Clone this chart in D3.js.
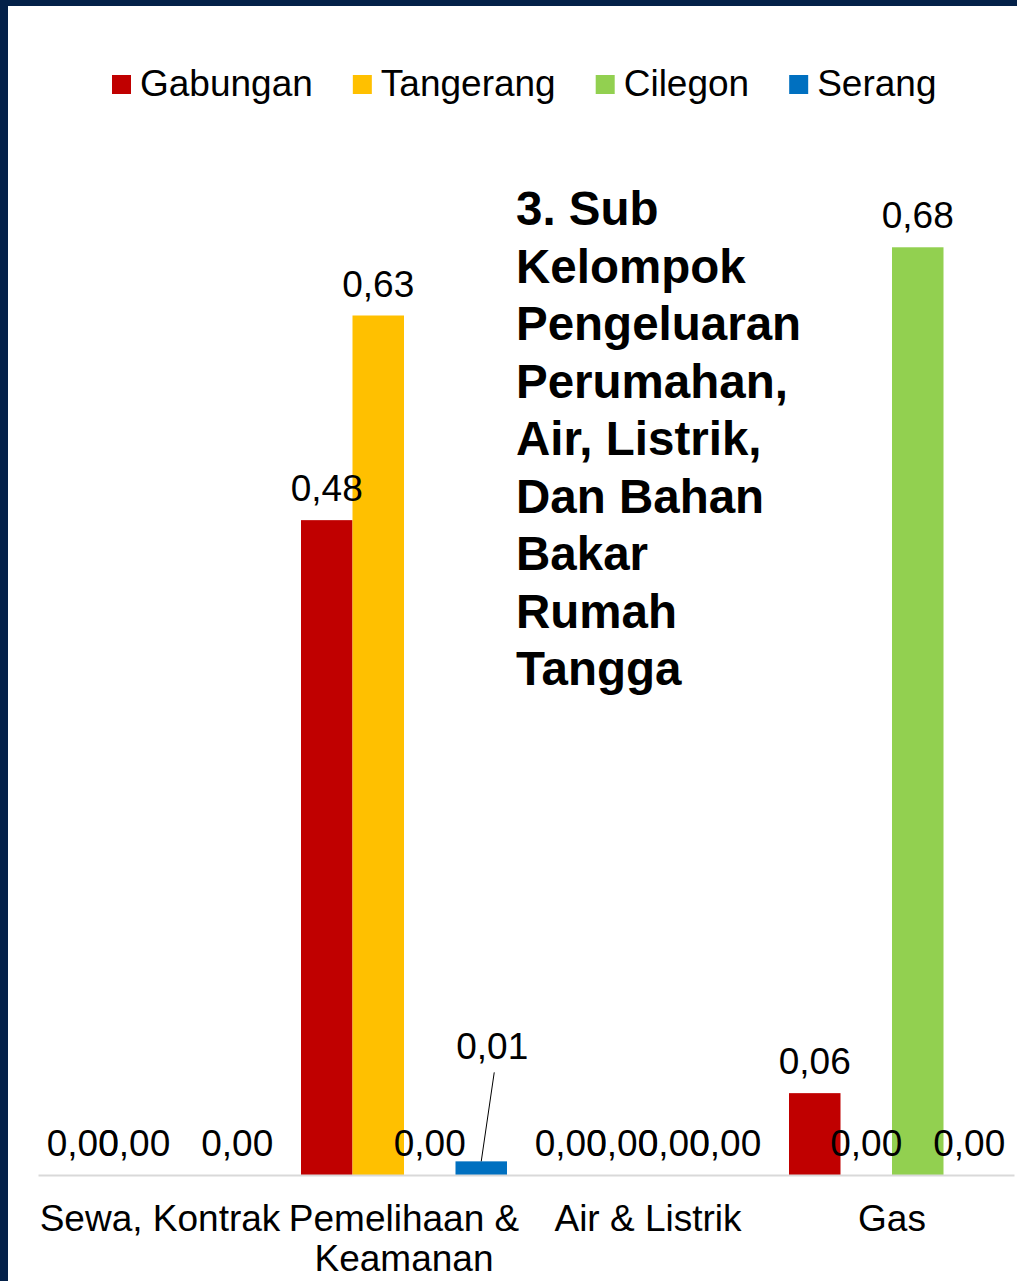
<!DOCTYPE html>
<html>
<head>
<meta charset="utf-8">
<script src="https://cdn.jsdelivr.net/npm/d3@7"></script>
<style>
  html, body { margin: 0; padding: 0; background: #ffffff; }
  svg { display: block; font-family: "Liberation Sans", Arial, sans-serif; }
</style>
</head>
<body>
<svg id="chart" width="1017" height="1281"></svg>
<script>
// ---- data ----
const categories = ["Sewa, Kontrak", "Pemelihaan & Keamanan", "Air & Listrik", "Gas"];
const seriesNames = ["Gabungan", "Tangerang", "Cilegon", "Serang"];
const gabungan  = [0.00, 0.48, 0.00, 0.06];
const tangerang = [0.00, 0.63, 0.00, 0.00];
const cilegon   = [null, 0.00, 0.00, 0.68];
const serang    = [0.00, 0.01, 0.00, 0.00];
const seriesColors = ["#C00000", "#FFC000", "#92D050", "#0070C0"];
const titleLines = ["3. Sub", "Kelompok", "Pengeluaran", "Perumahan,", "Air, Listrik,", "Dan Bahan", "Bakar", "Rumah", "Tangga"];

const seriesValues = [gabungan, tangerang, cilegon, serang];
const rows = [];
categories.forEach((c, ci) => {
  seriesNames.forEach((s, si) => {
    rows.push({ cat: c, series: s, si, value: seriesValues[si][ci] });
  });
});

// ---- layout ----
const W = 1017, H = 1281;
const plot = { left: 38, right: 1014, top: 220, bottom: 1175 };
const FS = 37;
const svg = d3.select("#chart");

svg.append("rect").attr("x", 0).attr("y", 0).attr("width", W).attr("height", H).attr("fill", "#ffffff");
// frame (dark navy edges)
svg.append("rect").attr("x", 0).attr("y", 0).attr("width", 8).attr("height", H).attr("fill", "#042149");
svg.append("rect").attr("x", 0).attr("y", 0).attr("width", W).attr("height", 6).attr("fill", "#042149");

const x0 = d3.scaleBand().domain(categories).range([plot.left, plot.right]).paddingInner(0).paddingOuter(0);
const x1 = d3.scaleBand().domain(seriesNames).range([0, x0.bandwidth()]).paddingInner(0).paddingOuter(0.369);
const y = d3.scaleLinear().domain([0, 0.7]).range([plot.bottom, plot.top]);
const color = d3.scaleOrdinal().domain(seriesNames).range(seriesColors);
const fmt = v => d3.format(".2f")(v).replace(".", ",");

// bars
svg.append("g").selectAll("rect")
  .data(rows.filter(d => d.value !== null && d.value > 0))
  .join("rect")
  .attr("x", d => x0(d.cat) + x1(d.series))
  .attr("y", d => y(d.value))
  .attr("width", x1.bandwidth())
  .attr("height", d => y(0) - y(d.value))
  .attr("fill", d => color(d.series));

// axis
const axis = svg.append("g")
  .attr("transform", `translate(0,${plot.bottom})`)
  .call(d3.axisBottom(x0).tickSize(0).tickSizeOuter(0));
axis.select(".domain").attr("stroke", "#d9d9d9").attr("stroke-width", 2);
axis.selectAll(".tick text")
  .attr("font-size", FS)
  .attr("fill", "#000")
  .attr("font-family", "'Liberation Sans', Arial, sans-serif")
  .each(function(d) {
    const t = d3.select(this);
    const words = d.split(" ");
    t.text(null).attr("dy", null).attr("y", 56);
    const maxW = x0.bandwidth();
    let line = [];
    let lineNo = 0;
    let tspan = t.append("tspan").attr("x", 0).attr("y", 56);
    words.forEach(w => {
      line.push(w);
      tspan.text(line.join(" "));
      if (tspan.node().getComputedTextLength() > maxW && line.length > 1) {
        line.pop();
        tspan.text(line.join(" "));
        line = [w];
        lineNo++;
        tspan = t.append("tspan").attr("x", 0).attr("y", 56 + lineNo * 40).text(w);
      }
    });
  });

// data labels
const labelShift = { "Serang|Pemelihaan & Keamanan": { dx: 11, dy: -83 } };
const labelG = svg.append("g").attr("font-size", FS).attr("fill", "#000").attr("text-anchor", "middle");
rows.filter(d => d.value !== null).forEach(d => {
  const cx = x0(d.cat) + x1(d.series) + x1.bandwidth() / 2;
  const by = y(d.value) - 19;
  const sh = labelShift[d.series + "|" + d.cat];
  if (sh) {
    svg.append("line")
      .attr("x1", cx).attr("y1", y(d.value))
      .attr("x2", cx + sh.dx + 2).attr("y2", by + sh.dy + 13)
      .attr("stroke", "#000").attr("stroke-width", 1);
    labelG.append("text").attr("x", cx + sh.dx).attr("y", by + sh.dy).text(fmt(d.value));
  } else {
    labelG.append("text").attr("x", cx).attr("y", by).text(fmt(d.value));
  }
});

// title text block
const title = svg.append("text")
  .attr("x", 516).attr("y", 225)
  .attr("font-size", 47.5).attr("font-weight", "bold").attr("fill", "#000");
titleLines.forEach((l, i) => {
  title.append("tspan").attr("x", 516).attr("y", 225 + i * 57.5).text(l);
});

// legend
const legend = svg.append("g").attr("transform", "translate(112,0)");
let lx = 0;
seriesNames.forEach((s, i) => {
  const g = legend.append("g").attr("transform", `translate(${lx},0)`);
  g.append("rect").attr("x", 0).attr("y", 75).attr("width", 19).attr("height", 19).attr("fill", color(s));
  const t = g.append("text").attr("x", 28).attr("y", 96).attr("font-size", FS).attr("fill", "#000").text(s);
  lx += 28 + t.node().getComputedTextLength() + 40;
});
</script>
</body>
</html>
